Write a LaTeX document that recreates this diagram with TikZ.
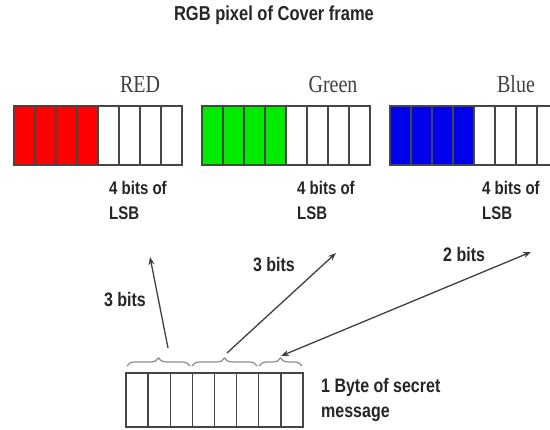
\documentclass[tikz,border=0pt]{standalone}
\usepackage{fontspec}
\usepackage{graphicx}
\setmainfont{Liberation Serif}
\setsansfont{Liberation Sans}
\usetikzlibrary{decorations.pathreplacing,arrows.meta}
\newcommand{\vstr}[1]{\scalebox{1}[1.22]{#1}}
\definecolor{lc}{RGB}{70,70,70}
\definecolor{rd}{RGB}{255,0,0}
\definecolor{gn}{RGB}{0,235,0}
\definecolor{bl}{RGB}{0,0,235}
\tikzset{
  cell/.style={minimum width=21pt, minimum height=59pt, inner sep=0pt, outer sep=0pt},
  bcell/.style={draw=lc, line width=1.3pt, minimum width=22.1pt, minimum height=54pt, inner sep=0pt, outer sep=0pt},
  edge/.style={draw=lc, line width=1.3pt},
  serifl/.style={font=\fontsize{20}{24}\selectfont, text=black!75, inner sep=0pt},
  sansl/.style={font=\sffamily\bfseries\fontsize{15}{20}\selectfont, text=black!85, inner sep=0pt},
  sansm/.style={font=\sffamily\bfseries\fontsize{16}{20}\selectfont, text=black!85, inner sep=0pt},
  brc/.style={decorate, decoration={brace, amplitude=8pt}, draw=black!45, line width=1.2pt},
  arr/.style={-{Stealth[length=8pt,width=6pt]}, draw=black!75, line width=1.3pt},
  darr/.style={{Stealth[length=8pt,width=6pt]}-{Stealth[length=8pt,width=6pt]}, draw=black!75, line width=1.3pt},
}
\begin{document}
\begin{tikzpicture}[x=1pt,y=-1pt]
\useasboundingbox (0,0) rectangle (550,430);
\clip (0,0) rectangle (550,430);
\fill[white] (0,0) rectangle (550,430);

% title
\node[sansm, font=\sffamily\bfseries\fontsize{16.5}{20}\selectfont, anchor=base] (title) at (274,21) {\vstr{RGB pixel of Cover frame}};

% colour groups: fills as named nodes
\foreach \n/\x/\c in {r/14/rd, g/202/gn, b/390/bl}{
  \foreach \i in {1,...,8}{
    \ifnum\i<5
      \node[cell, fill=\c] (\n\i) at ({\x+21*(\i-0.5)},135.5) {};
    \else
      \node[cell, fill=white] (\n\i) at ({\x+21*(\i-0.5)},135.5) {};
    \fi
  }
  % outline and dividers on top
  \draw[edge] (\n1.north west) rectangle (\n8.south east);
  \foreach \i in {1,...,7}{
    \draw[edge] (\n\i.north east) -- (\n\i.south east);
  }
}

\node[serifl, anchor=base] (lred) at (140,93) {\vstr{RED}};
\node[serifl, anchor=base] (lgreen) at (333,93) {\vstr{Green}};
\node[serifl, anchor=base] (lblue) at (516,93) {\vstr{Blue}};

\node[sansl, anchor=base west] (ra) at (109,195) {\vstr{4 bits of}};
\node[sansl, anchor=base west] (rb) at (109,220) {\vstr{LSB}};
\node[sansl, anchor=base west] (ga) at (297,195) {\vstr{4 bits of}};
\node[sansl, anchor=base west] (gb) at (297,220) {\vstr{LSB}};
\node[sansl, anchor=base west] (ba) at (482,195) {\vstr{4 bits of}};
\node[sansl, anchor=base west] (bb) at (482,220) {\vstr{LSB}};

% secret byte
\foreach \i in {1,...,8} \node[bcell] (s\i) at ({126+22.125*(\i-0.5)},400) {};

\node[sansm, anchor=base west] (sa) at (321,393) {\vstr{1 Byte of secret}};
\node[sansm, anchor=base west] (sb) at (321,418) {\vstr{message}};

% braces
\draw[brc] (127,366) -- (190,366);
\draw[brc] (192,366) -- (257,366);
\draw[brc] (259,366) -- (302,366);

\coordinate (p1) at (168,348);
\coordinate (p2) at (227,353);
\coordinate (p3) at (281,356);
\coordinate (t1) at (150,257);
\coordinate (t2) at (336,253);
\coordinate (t3) at (531,252);

\draw[arr] (p1) -- (t1);
\draw[arr] (p2) -- (t2);
\draw[darr] (p3) -- (t3);

\node[sansm, anchor=base] (n1) at (125,307) {\vstr{3 bits}};
\node[sansm, anchor=base] (n2) at (274,272) {\vstr{3 bits}};
\node[sansm, anchor=base west] (n3) at (443,262) {\vstr{2 bits}};
\end{tikzpicture}
\end{document}
